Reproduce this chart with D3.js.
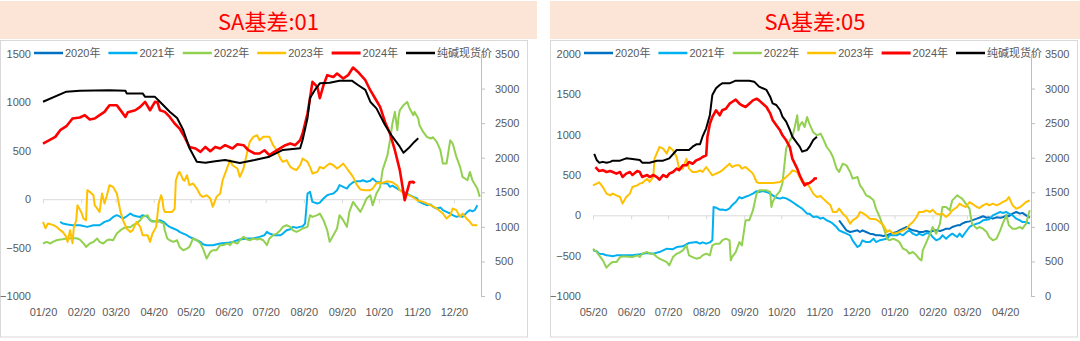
<!DOCTYPE html>
<html><head><meta charset="utf-8">
<script src="https://cdn.jsdelivr.net/npm/d3@7"></script>
<style>
body{margin:0;background:#fff}
svg{display:block}
text{font-family:"Liberation Sans","Noto Sans CJK SC",sans-serif}
.cjk{font-family:"Noto Sans CJK SC","Liberation Sans",sans-serif}
</style>
</head><body>
<svg id="c" width="1080" height="341"></svg>
<script>
// ---------- shared labels / ticks ----------
const seriesNames = ["2020年","2021年","2022年","2023年","2024年","纯碱现货价"];
const seriesColors = ["#0070C0","#00B0F0","#92D050","#FFC000","#FF0000","#000000"];
const basisTicks01 = [-1000,-500,0,500,1000,1500];
const basisTicks05 = [-1000,-500,0,500,1000,1500,2000];
const priceTicks = [0,500,1000,1500,2000,2500,3000,3500];
const months01 = ["01/20","02/20","03/20","04/20","05/20","06/20","07/20","08/20","09/20","10/20","11/20","12/20"];
const months05 = ["05/20","06/20","07/20","08/20","09/20","10/20","11/20","12/20","01/20","02/20","03/20","04/20"];

// ---------- SA基差:01  ([days after 01/20, value]) ----------
const c01_2020 = [];
const c01_2021 = [[14,-234],[16,-251],[20,-262],[24,-269],[30,-269],[36,-286],[41,-269],[46,-269],[50,-234],[54,-217],[57,-183],[60,-165],[63,-183],[65,-200],[68,-176],[71,-148],[73,-165],[76,-176],[79,-183],[81,-165],[85,-183],[87,-217],[89,-225],[93,-234],[95,-217],[98,-234],[101,-269],[103,-286],[106,-303],[109,-320],[111,-338],[114,-355],[117,-372],[119,-389],[122,-406],[125,-424],[128,-441],[130,-465],[133,-475],[138,-475],[144,-458],[150,-451],[154,-441],[160,-417],[166,-406],[171,-406],[176,-389],[180,-372],[182,-338],[184,-355],[188,-372],[193,-372],[195,-355],[198,-320],[201,-310],[203,-286],[206,-295],[209,-286],[211,-280],[213,-251],[215,59],[217,76],[219,-28],[223,-45],[225,-35],[228,7],[231,41],[233,50],[236,59],[239,93],[241,145],[244,127],[247,110],[249,145],[252,176],[255,186],[258,186],[260,196],[263,180],[266,190],[268,214],[271,179],[274,175],[276,165],[280,162],[282,127],[284,140],[288,110],[290,93],[293,76],[296,59],[298,41],[301,24],[304,7],[306,-28],[309,-45],[312,-62],[315,-55],[317,-79],[320,-96],[323,-85],[325,-113],[328,-131],[331,-148],[333,-165],[336,-183],[339,-170],[341,-183],[345,-131],[347,-113],[349,-125],[351,-113],[353,-62]];
const c01_2022 = [[0,-458],[3,-441],[6,-458],[8,-441],[11,-424],[14,-417],[16,-413],[19,-406],[22,-406],[24,-400],[28,-406],[30,-417],[33,-458],[35,-493],[38,-458],[41,-441],[44,-406],[46,-441],[49,-458],[52,-424],[54,-417],[57,-424],[60,-355],[63,-320],[65,-303],[68,-286],[71,-290],[73,-269],[76,-251],[79,-217],[81,-183],[85,-165],[87,-217],[89,-234],[93,-217],[95,-234],[98,-251],[99,-320],[101,-406],[103,-424],[106,-441],[109,-424],[111,-493],[114,-527],[117,-510],[119,-493],[122,-406],[125,-424],[128,-458],[130,-510],[133,-613],[136,-544],[138,-527],[141,-527],[144,-475],[146,-475],[150,-458],[152,-475],[154,-441],[158,-458],[160,-424],[163,-389],[166,-417],[168,-424],[171,-406],[174,-417],[176,-406],[179,-424],[182,-475],[184,-406],[187,-372],[190,-355],[193,-320],[195,-286],[198,-269],[201,-286],[203,-320],[206,-338],[209,-320],[211,-303],[215,-286],[217,-165],[219,-183],[223,-165],[225,-148],[228,-217],[231,-320],[233,-441],[236,-372],[239,-303],[241,-165],[244,-217],[247,-286],[249,-131],[252,-28],[255,-79],[258,-131],[260,-79],[263,7],[266,41],[268,-62],[271,59],[274,127],[276,300],[280,455],[282,609],[284,782],[286,902],[288,713],[289,850],[290,919],[293,971],[296,1005],[298,937],[301,868],[302,902],[305,834],[306,764],[309,695],[312,644],[315,627],[317,640],[320,592],[323,506],[325,369],[328,369],[331,609],[333,575],[336,437],[339,334],[341,230],[345,196],[347,282],[349,196],[353,110],[355,24]];
const c01_2023 = [[0,-234],[2,-300],[4,-251],[8,-265],[11,-285],[14,-320],[16,-338],[19,-389],[20,-441],[22,-320],[24,-455],[25,-300],[27,-217],[28,-62],[31,-131],[33,-200],[35,-217],[36,93],[38,76],[41,41],[42,-62],[46,-131],[48,59],[50,-45],[52,41],[54,145],[57,127],[60,59],[63,-131],[65,-217],[68,-303],[71,-338],[73,-320],[76,-234],[79,-285],[81,-372],[85,-372],[87,-441],[89,-355],[92,-286],[94,-45],[96,40],[97,0],[98,-100],[99,-131],[105,-131],[107,-100],[108,196],[110,270],[111,282],[114,200],[115,190],[117,248],[119,145],[122,162],[125,110],[128,41],[130,24],[133,41],[136,7],[138,-79],[141,24],[144,59],[146,196],[152,403],[154,351],[158,317],[160,230],[163,317],[166,489],[168,592],[171,644],[174,661],[176,609],[179,644],[182,644],[184,644],[187,558],[190,506],[193,420],[195,385],[198,403],[201,334],[203,317],[206,300],[209,351],[211,420],[215,385],[217,334],[219,266],[223,282],[225,334],[228,317],[231,351],[233,369],[236,351],[239,317],[241,334],[244,369],[247,317],[249,282],[252,230],[255,150],[258,100],[262,93],[266,93],[268,110],[271,165],[276,170],[280,186],[284,175],[288,140],[290,93],[294,52],[298,41],[302,10],[304,-10],[309,-28],[315,-62],[320,-96],[325,-148],[328,-200],[331,-165],[333,-96],[336,-113],[339,-183],[341,-148],[345,-210],[347,-234],[349,-269],[353,-269]];
const c01_2024 = [[0,575],[10,644],[14,713],[19,754],[24,834],[30,844],[34,868],[38,823],[42,834],[46,868],[50,902],[54,971],[60,971],[64,902],[67,850],[69,899],[75,919],[79,953],[83,1005],[87,919],[91,1005],[93,1002],[95,919],[99,902],[103,850],[107,782],[111,730],[115,644],[119,540],[124,524],[128,489],[132,540],[136,496],[140,540],[144,524],[148,558],[154,524],[158,568],[163,558],[167,506],[172,472],[176,472],[180,506],[184,455],[188,489],[197,558],[201,575],[205,558],[209,609],[211,678],[215,885],[217,1040],[219,1212],[223,1160],[225,1043],[228,1178],[231,1281],[236,1263],[239,1298],[244,1247],[248,1281],[252,1360],[256,1315],[262,1229],[266,1126],[270,1040],[274,953],[278,798],[282,678],[286,506],[290,300],[294,-10],[298,176],[301,179],[302,162]];
const c01_spot = [[0,2810],[19,2955],[30,2970],[54,2975],[67,2970],[68,2930],[81,2930],[83,2880],[91,2880],[95,2810],[103,2665],[109,2575],[114,2400],[119,2140],[125,1942],[132,1928],[140,1950],[148,1967],[160,1924],[172,1967],[184,2015],[195,2112],[209,2136],[211,2256],[215,2575],[217,2864],[221,2980],[225,3076],[233,3085],[241,3114],[251,3114],[256,3052],[262,2980],[266,2810],[271,2714],[278,2473],[284,2304],[290,2160],[293,2073],[297,2136],[302,2232],[305,2280]];

// ---------- SA基差:05  ([days after 05/20, value]) ----------
const c05_2020 = [[200,-62],[203,-124],[206,-186],[209,-207],[211,-200],[215,-186],[217,-207],[219,-186],[222,-207],[225,-227],[228,-235],[230,-248],[233,-248],[236,-255],[239,-248],[241,-235],[244,-220],[247,-207],[249,-186],[252,-165],[255,-145],[257,-165],[260,-186],[263,-193],[265,-207],[268,-207],[271,-193],[274,-207],[276,-193],[279,-186],[282,-193],[284,-186],[287,-165],[290,-165],[292,-145],[296,-124],[298,-124],[300,-103],[303,-83],[306,-75],[308,-62],[312,-41],[314,-30],[317,-12],[320,-30],[322,-25],[325,-41],[328,-25],[331,-30],[333,-25],[336,0],[338,-12],[341,21],[344,41],[347,21],[349,30],[352,0],[355,-29]];
const c05_2021 = [[0,-434],[3,-446],[5,-475],[8,-480],[11,-496],[14,-500],[16,-508],[19,-496],[22,-496],[27,-496],[32,-496],[38,-483],[44,-467],[49,-475],[54,-455],[60,-413],[65,-420],[68,-393],[73,-384],[78,-343],[84,-331],[87,-351],[89,-335],[92,-351],[95,-335],[97,-310],[98,103],[100,95],[103,70],[105,72],[108,62],[111,85],[113,124],[116,165],[119,227],[121,210],[124,230],[127,248],[130,269],[133,300],[135,290],[138,300],[141,290],[144,269],[146,248],[149,219],[152,207],[154,220],[157,210],[160,186],[162,165],[166,124],[168,103],[170,83],[174,21],[176,21],[179,-21],[182,-15],[185,-41],[187,-30],[190,-62],[193,-83],[195,-103],[198,-145],[200,-186],[203,-207],[206,-227],[209,-248],[211,-310],[215,-393],[217,-372],[219,-310],[222,-331],[225,-331],[228,-289],[230,-331],[233,-310],[236,-300],[239,-289],[241,-248],[244,-248],[247,-248],[249,-227],[252,-248],[255,-207],[257,-186],[260,-227],[263,-248],[265,-227],[268,-248],[271,-220],[274,-227],[276,-269],[279,-310],[282,-289],[284,-248],[287,-289],[290,-248],[292,-227],[296,-269],[298,-227],[300,-269],[303,-207],[306,-145],[308,-124],[312,-103],[314,-95],[317,-62],[320,-55],[322,-50],[325,0],[328,21],[331,41],[333,30],[336,41],[338,21],[341,0],[344,-41],[347,-62],[349,-83],[352,-83],[355,-103]];
const c05_2022 = [[0,-413],[3,-455],[5,-496],[8,-558],[11,-649],[14,-599],[16,-579],[19,-579],[22,-517],[24,-510],[27,-510],[32,-517],[36,-496],[38,-517],[40,-475],[44,-455],[46,-475],[49,-475],[52,-517],[54,-537],[57,-558],[60,-579],[62,-620],[65,-517],[68,-475],[70,-465],[73,-434],[76,-372],[78,-496],[81,-517],[84,-537],[87,-527],[89,-496],[92,-475],[95,-496],[97,-372],[100,-351],[103,-351],[105,-310],[108,-289],[111,-310],[112,-558],[113,-517],[116,-455],[119,-331],[121,-372],[124,-62],[127,-62],[130,62],[133,269],[135,310],[138,310],[141,310],[144,289],[145,103],[146,165],[149,248],[152,300],[154,400],[157,827],[160,930],[162,971],[164,1095],[166,1240],[167,1054],[168,1116],[170,1157],[172,1095],[174,1219],[176,1130],[179,1029],[182,992],[185,1013],[187,950],[190,847],[193,785],[195,723],[198,579],[200,537],[203,640],[206,620],[209,537],[211,455],[215,475],[217,372],[219,331],[222,248],[225,227],[228,186],[230,83],[233,-21],[236,-145],[239,-289],[241,-310],[244,-289],[247,-310],[249,-331],[252,-413],[255,-434],[257,-475],[260,-455],[263,-496],[265,-537],[267,-558],[268,-434],[271,-331],[274,-227],[276,-145],[279,-227],[282,-103],[284,103],[287,103],[290,62],[292,186],[296,248],[298,227],[300,207],[303,145],[306,83],[308,-103],[312,-165],[314,-145],[317,-165],[320,-207],[322,-269],[325,-310],[328,-289],[331,-186],[333,-103],[336,0],[338,-124],[341,-165],[344,-165],[347,-145],[349,-165],[352,-103],[355,62]];
const c05_2023 = [[0,372],[3,393],[5,410],[8,351],[11,269],[14,248],[16,269],[19,248],[22,227],[24,145],[27,227],[30,269],[32,351],[36,372],[38,393],[40,400],[44,455],[46,413],[49,475],[50,702],[54,847],[57,827],[60,764],[62,847],[65,806],[68,723],[70,579],[73,579],[76,702],[78,579],[81,537],[84,537],[87,558],[89,537],[92,599],[95,537],[97,496],[100,517],[103,537],[105,558],[108,599],[111,640],[113,599],[116,620],[119,620],[121,579],[124,599],[127,558],[130,517],[133,413],[135,400],[141,400],[146,400],[152,413],[157,475],[160,517],[162,558],[166,537],[168,475],[170,413],[174,393],[176,351],[179,269],[182,227],[185,240],[187,207],[190,165],[193,124],[195,41],[198,41],[200,83],[203,21],[206,-21],[209,-103],[211,-62],[215,-21],[217,41],[219,30],[222,0],[225,-41],[228,-45],[230,-50],[233,-83],[236,-124],[239,-207],[241,-186],[244,-227],[247,-220],[249,-207],[252,-186],[255,-165],[257,-124],[260,-83],[263,-21],[265,41],[268,41],[271,62],[274,41],[276,70],[279,21],[282,10],[284,21],[287,-21],[290,21],[292,62],[296,103],[298,145],[300,124],[303,103],[306,165],[308,145],[312,103],[314,90],[317,124],[320,145],[322,124],[325,145],[328,124],[331,145],[333,165],[336,186],[338,227],[341,124],[344,83],[347,100],[349,124],[352,165],[355,186]];
const c05_2024 = [[2,599],[5,549],[8,560],[11,537],[14,549],[16,537],[19,517],[22,537],[24,475],[27,517],[30,537],[32,500],[36,549],[38,537],[40,475],[44,500],[46,475],[49,500],[52,475],[54,442],[57,500],[60,475],[62,517],[65,537],[68,579],[70,560],[73,620],[76,620],[78,661],[81,640],[84,682],[87,702],[89,723],[92,744],[93,971],[95,1136],[97,1219],[100,1302],[103,1240],[105,1302],[108,1322],[111,1384],[113,1405],[116,1434],[119,1384],[121,1364],[124,1343],[127,1384],[130,1425],[133,1446],[135,1425],[138,1384],[141,1343],[144,1265],[146,1182],[149,1116],[152,1054],[154,992],[157,930],[160,847],[162,703],[166,579],[168,496],[170,434],[172,372],[174,393],[176,400],[179,434],[180,455],[182,460]];
const c05_spot = [[1,2054],[3,1967],[5,1928],[8,1940],[11,1928],[14,1940],[16,1957],[22,1957],[27,1991],[32,1980],[38,1967],[40,1928],[46,1928],[52,1957],[57,1957],[62,1991],[68,2112],[73,2112],[78,2112],[81,2160],[84,2194],[87,2194],[89,2304],[92,2425],[95,2618],[97,2907],[100,3004],[103,3052],[105,3076],[111,3076],[116,3114],[121,3114],[127,3114],[131,3100],[135,3028],[141,2980],[144,2883],[146,2787],[149,2762],[152,2690],[154,2594],[157,2521],[160,2401],[162,2304],[166,2208],[168,2160],[170,2088],[174,2112],[176,2160],[179,2256],[182,2304]];

// ---------- drawing ----------
const svg = d3.select("#c");
svg.append("rect").attr("width",1080).attr("height",341).attr("fill","#fff");
const GRAY = "#595959";
const numFmt = d3.format("d");

function drawPanel(cfg){
  const g = svg.append("g").attr("transform",`translate(${cfg.ox},0)`);
  // banner
  g.append("rect").attr("x",cfg.bx).attr("y",1).attr("width",cfg.bw).attr("height",38).attr("fill","#FCE4D6");
  g.append("text").attr("class","cjk").attr("x",cfg.bx+cfg.bw/2).attr("y",20).attr("text-anchor","middle")
    .attr("dominant-baseline","central").attr("fill","#FF0000").attr("font-size",22).text(cfg.title);
  // chart box
  g.append("rect").attr("x",0.5).attr("y",40.5).attr("width",cfg.boxW).attr("height",296.5)
    .attr("fill","none").attr("stroke","#D9D9D9");

  const x0 = 43, x1 = 481, yTop = 54, yBot = 296;
  const start = cfg.start;
  const end = d3.timeDay.offset(start, 356);
  const x = d3.scaleTime().domain([start,end]).range([x0,x1]);
  const y = d3.scaleLinear().domain([cfg.basisTicks[0], cfg.basisTicks[cfg.basisTicks.length-1]]).range([yBot,yTop]);
  const yp = d3.scaleLinear().domain([0,3500]).range([yBot,yTop]);
  const tickDates = cfg.months.map((m,i)=>d3.timeMonth.offset(start,i));

  // zero line with ticks
  const zeroAxis = g.append("g").attr("transform",`translate(0,${y(0)})`)
    .call(d3.axisBottom(x).tickValues(tickDates).tickSize(4).tickSizeOuter(0).tickFormat(""));
  zeroAxis.selectAll("path,line").attr("stroke","#D9D9D9");
  // date labels
  const xAx = g.append("g").attr("transform",`translate(0,${yBot})`)
    .call(d3.axisBottom(x).tickValues(tickDates).tickSize(0).tickPadding(12).tickFormat((d,i)=>cfg.months[i]));
  xAx.select(".domain").remove();
  xAx.selectAll("text").attr("fill",GRAY).attr("font-size",11).attr("font-family",null);

  // left axis
  const yAx = g.append("g").attr("transform",`translate(${x0},0)`)
    .call(d3.axisLeft(y).tickValues(cfg.basisTicks).tickSize(0).tickPadding(12).tickFormat(numFmt));
  yAx.select(".domain").remove();
  yAx.selectAll("text").attr("fill",GRAY).attr("font-size",11).attr("font-family",null);

  // right axis
  const ypAx = g.append("g").attr("transform",`translate(${x1},0)`)
    .call(d3.axisRight(yp).tickValues(priceTicks).tickSize(4).tickSizeOuter(0).tickPadding(10).tickFormat(numFmt));
  ypAx.selectAll("path,line").attr("stroke","#BFBFBF");
  ypAx.selectAll("text").attr("fill",GRAY).attr("font-size",11).attr("font-family",null);

  // lines
  const lineB = d3.line().x(d=>x(d3.timeDay.offset(start,d[0]))).y(d=>y(d[1]));
  const lineP = d3.line().x(d=>x(d3.timeDay.offset(start,d[0]))).y(d=>yp(d[1]));
  cfg.series.forEach((s,i)=>{
    if(!s.length) return;
    g.append("path").datum(s).attr("fill","none")
      .attr("stroke",seriesColors[i])
      .attr("stroke-width", i===4 ? 2.6 : 2)
      .attr("stroke-linejoin","round")
      .attr("d", i===5 ? lineP : lineB);
  });

  // legend
  const leg = g.append("g").attr("transform","translate(34,53)");
  seriesNames.forEach((n,i)=>{
    const lx = i*74.4;
    leg.append("line").attr("x1",lx).attr("x2",lx+29).attr("y1",0).attr("y2",0)
      .attr("stroke",seriesColors[i]).attr("stroke-width",i===4?3:2.5);
    leg.append("text").attr("x",lx+31).attr("y",0).attr("dominant-baseline","central")
      .attr("fill",GRAY).attr("font-size",11).text(n);
  });
}

drawPanel({ox:0, bx:0, bw:537, boxW:527, title:"SA基差:01", start:new Date(2001,0,20),
  basisTicks:basisTicks01, months:months01,
  series:[c01_2020,c01_2021,c01_2022,c01_2023,c01_2024,c01_spot]});
drawPanel({ox:550, bx:0, bw:530, boxW:527, title:"SA基差:05", start:new Date(2001,4,20),
  basisTicks:basisTicks05, months:months05,
  series:[c05_2020,c05_2021,c05_2022,c05_2023,c05_2024,c05_spot]});
</script>
</body></html>
